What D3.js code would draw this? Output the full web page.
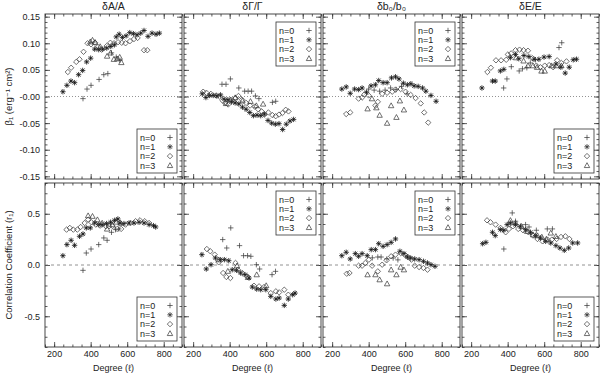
<!DOCTYPE html>
<html>
<head>
<meta charset="utf-8">
<script src="https://cdn.jsdelivr.net/npm/d3@7"></script>
<style>
  body { margin: 0; background: #fff; }
  text { font-family: "Liberation Sans", Arial, "DejaVu Sans", sans-serif; fill: #222; }
</style>
</head>
<body>
<svg id="chart" width="600" height="374"></svg>
<script>
// ---- data: [degree l, value] ----
var titles = ['δA/A', 'δΓ/Γ', 'δb₀/b₀', 'δE/E'];
var legendLabels = ['n=0', 'n=1', 'n=2', 'n=3'];
var xTicks = [200, 400, 600, 800];
var betaTicks = [-0.15, -0.10, -0.05, 0, 0.05, 0.10, 0.15];
var betaTickLabels = ['-0.15', '-0.10', '-0.05', '-0.00', '0.05', '0.10', '0.15'];
var corrTicks = [-0.5, 0, 0.5];
var corrTickLabels = ['-0.5', '0.0', '0.5'];

// top row: beta_1
var betaA_n0 = [[358,-0.004],[380,0.014],[402,0.021],[446,0.032],[472,0.041],[494,0.043],[514,0.082],[540,0.074],[560,0.068]];
var betaA_n1 = [[248,0.009],[270,0.021],[292,0.029],[312,0.026],[334,0.041],[356,0.049],[378,0.065],[400,0.072],[422,0.089],[444,0.088],[466,0.089],[488,0.091],[510,0.094],[530,0.097],[540,0.112],[556,0.117],[574,0.111],[594,0.114],[614,0.120],[634,0.118],[654,0.116],[674,0.119],[692,0.124],[714,0.113],[736,0.119],[758,0.117],[776,0.119]];
var betaA_n2 = [[275,0.046],[293,0.054],[321,0.065],[339,0.070],[361,0.084],[383,0.100],[402,0.098],[424,0.101],[440,0.093],[460,0.088],[488,0.095],[508,0.101],[528,0.100],[550,0.102],[570,0.101],[591,0.100],[615,0.104],[637,0.108],[657,0.110],[692,0.087],[710,0.087]];
var betaA_n3 = [[398,0.103],[410,0.106],[424,0.102],[452,0.094],[490,0.076],[509,0.082],[527,0.070],[545,0.071],[559,0.074],[568,0.064]];

var betaG_n0 = [[358,0.023],[380,0.023],[404,0.033],[450,0.016],[482,0.010],[501,0.010],[520,0.010],[541,0.001],[560,-0.004],[634,-0.011],[652,-0.009]];
var betaG_n1 = [[250,0.005],[270,-0.002],[290,0.002],[310,0.002],[330,0.001],[350,0.003],[370,-0.005],[390,-0.006],[410,-0.010],[430,-0.012],[450,-0.014],[470,-0.020],[490,-0.024],[510,-0.030],[530,-0.036],[550,-0.035],[570,-0.036],[590,-0.033],[610,-0.045],[630,-0.050],[650,-0.052],[670,-0.051],[690,-0.062],[710,-0.052],[730,-0.046],[750,-0.043]];
var betaG_n2 = [[255,0.009],[273,0.007],[297,0.005],[325,0.002],[345,0.000],[362,-0.008],[376,-0.012],[392,-0.015],[412,-0.007],[432,-0.003],[448,0.001],[468,-0.006],[490,-0.012],[512,-0.017],[537,-0.019],[556,-0.024],[575,-0.028],[590,-0.034],[612,-0.030],[634,-0.035],[652,-0.037],[670,-0.034],[689,-0.031],[707,-0.025],[722,-0.028]];
var betaG_n3 = [[380,-0.013],[404,-0.006],[430,-0.002],[470,-0.008],[514,-0.009],[546,-0.017],[583,-0.014]];

var betaB_n0 = [[400,0.014],[430,0.012],[460,0.010],[490,0.012],[520,0.016],[550,0.013],[580,0.019],[610,0.005]];
var betaB_n1 = [[253,0.014],[277,0.018],[299,0.006],[323,0.014],[345,0.013],[364,0.016],[388,0.008],[413,0.020],[437,0.022],[455,0.030],[479,0.026],[501,0.026],[525,0.035],[547,0.037],[566,0.033],[590,0.025],[612,0.022],[631,0.024],[649,0.020],[671,0.019],[695,0.016],[713,0.010],[741,0.002],[769,-0.009]];
var betaB_n2 = [[277,-0.033],[299,-0.030],[345,-0.004],[364,-0.002],[377,0.004],[400,0.002],[437,-0.017],[450,-0.010],[474,0.005],[501,0.007],[529,0.009],[547,0.013],[575,0.014],[602,0.009],[630,0.003],[657,-0.003],[685,-0.013],[704,-0.030],[726,-0.049]];
var betaB_n3 = [[394,-0.023],[418,-0.004],[442,-0.021],[460,-0.035],[501,-0.050],[523,-0.017],[552,-0.039],[571,-0.008],[593,-0.025]];

var betaE_n0 = [[378,0.016],[396,0.033],[420,0.056],[463,0.048],[481,0.052],[505,0.054],[524,0.063],[552,0.069],[681,0.092],[696,0.101]];
var betaE_n1 = [[259,0.016],[317,0.029],[332,0.029],[360,0.048],[379,0.051],[415,0.073],[443,0.079],[461,0.071],[489,0.077],[516,0.075],[544,0.070],[571,0.070],[599,0.074],[627,0.075],[664,0.061],[691,0.055],[715,0.044],[737,0.055],[759,0.069],[777,0.070]];
var betaE_n2 = [[289,0.046],[308,0.054],[336,0.068],[364,0.068],[392,0.069],[401,0.079],[419,0.081],[443,0.087],[465,0.088],[487,0.087],[511,0.086],[535,0.072],[557,0.058],[579,0.055],[603,0.058],[627,0.059],[649,0.055],[671,0.068],[694,0.063],[722,0.066]];
var betaE_n3 = [[446,0.073],[487,0.067],[511,0.058],[539,0.058],[561,0.055],[585,0.048],[603,0.048],[640,0.058],[667,0.058],[694,0.058]];

// bottom row: correlation coefficient r_1
var corrA_n0 = [[358,-0.052],[376,0.117],[402,0.156],[444,0.199],[472,0.264],[490,0.241],[514,0.319],[536,0.345],[554,0.352]];
var corrA_n1 = [[248,0.091],[270,0.199],[293,0.241],[312,0.192],[339,0.280],[358,0.303],[376,0.362],[398,0.362],[422,0.410],[444,0.394],[463,0.394],[487,0.404],[509,0.417],[531,0.436],[549,0.449],[560,0.410],[582,0.404],[610,0.410],[637,0.410],[665,0.417],[692,0.410],[720,0.394],[744,0.384],[756,0.371]];
var corrA_n2 = [[268,0.345],[286,0.362],[305,0.345],[327,0.345],[345,0.371],[367,0.410],[386,0.443],[404,0.417],[428,0.394],[452,0.384],[483,0.378],[501,0.378],[520,0.380],[545,0.352],[567,0.352],[591,0.394],[619,0.410],[646,0.427],[670,0.436],[696,0.427],[720,0.410]];
var corrA_n3 = [[386,0.482],[410,0.476],[437,0.443],[463,0.410],[490,0.352],[518,0.394],[540,0.420],[564,0.410]];

var corrG_n0 = [[362,0.248],[384,0.166],[406,0.362],[454,0.189],[476,0.091],[498,0.091],[516,0.085],[546,0.003],[564,-0.039],[632,-0.094],[651,-0.062]];
var corrG_n1 = [[248,0.101],[272,-0.039],[298,0.003],[322,0.068],[349,0.052],[371,0.052],[395,0.042],[414,-0.046],[438,-0.052],[460,-0.078],[484,-0.094],[506,-0.127],[524,-0.215],[548,-0.235],[570,-0.241],[598,-0.241],[625,-0.306],[653,-0.332],[671,-0.322],[699,-0.394],[721,-0.332],[745,-0.290],[758,-0.274]];
var corrG_n2 = [[275,0.156],[294,0.134],[318,0.101],[340,0.026],[364,-0.078],[382,-0.117],[404,-0.127],[432,0.020],[445,-0.046],[469,-0.078],[496,-0.111],[533,-0.202],[561,-0.208],[588,-0.215],[625,-0.274],[653,-0.257],[671,-0.267],[699,-0.241],[721,-0.290]];
var corrG_n3 = [[340,0.052],[390,-0.060],[440,-0.007],[500,-0.120],[548,-0.094],[600,-0.200]];

var corrB_n0 = [[420,0.070],[450,0.078],[468,0.078],[500,0.060],[534,0.068],[560,0.050]];
var corrB_n1 = [[253,0.091],[277,0.124],[299,0.059],[327,0.111],[345,0.085],[364,0.111],[392,0.091],[414,0.150],[437,0.150],[455,0.208],[479,0.182],[501,0.199],[523,0.221],[547,0.254],[571,0.134],[593,0.111],[612,0.078],[630,0.068],[652,0.059],[676,0.052],[700,0.036],[722,0.020],[741,0.003],[763,-0.013]];
var corrB_n2 = [[280,-0.085],[295,-0.078],[345,-0.007],[364,-0.007],[382,0.020],[401,0.052],[419,-0.007],[450,-0.062],[474,0.003],[498,0.046],[523,0.085],[547,0.101],[575,0.117],[597,0.101],[615,0.078],[634,0.052],[652,-0.007],[676,-0.020],[700,-0.029],[722,-0.046]];
var corrB_n3 = [[394,-0.094],[437,-0.094],[460,-0.143],[501,-0.182],[523,-0.046],[552,-0.094],[575,-0.020],[593,-0.046]];

var corrE_n0 = [[379,0.156],[425,0.508],[443,0.427],[498,0.394],[517,0.371],[557,0.339],[617,0.352],[645,0.352]];
var corrE_n1 = [[263,0.208],[281,0.221],[317,0.319],[332,0.287],[360,0.345],[379,0.339],[397,0.394],[415,0.410],[443,0.394],[470,0.378],[498,0.345],[525,0.319],[553,0.287],[580,0.264],[608,0.231],[636,0.215],[664,0.189],[686,0.166],[710,0.143],[734,0.166],[756,0.215],[783,0.215]];
var corrE_n2 = [[287,0.436],[306,0.417],[334,0.394],[361,0.362],[389,0.319],[407,0.352],[429,0.378],[458,0.352],[484,0.339],[514,0.319],[539,0.287],[563,0.254],[591,0.231],[618,0.248],[642,0.248],[668,0.254],[692,0.274],[716,0.280],[738,0.254]];
var corrE_n3 = [[415,0.436],[443,0.410],[476,0.378],[507,0.329],[539,0.296],[563,0.287],[587,0.274],[612,0.254],[636,0.313],[664,0.280]];

var betaSets = [[betaA_n0, betaA_n1, betaA_n2, betaA_n3], [betaG_n0, betaG_n1, betaG_n2, betaG_n3],
                [betaB_n0, betaB_n1, betaB_n2, betaB_n3], [betaE_n0, betaE_n1, betaE_n2, betaE_n3]];
var corrSets = [[corrA_n0, corrA_n1, corrA_n2, corrA_n3], [corrG_n0, corrG_n1, corrG_n2, corrG_n3],
                [corrB_n0, corrB_n1, corrB_n2, corrB_n3], [corrE_n0, corrE_n1, corrE_n2, corrE_n3]];
var legendCorner = ['bottom', 'top', 'top', 'bottom'];

// ---- layout ----
var PANEL_LEFT = [45, 184, 323, 462];
var PANEL_W = 137;
var ROWS = [
  { top: 14, bottom: 179, domain: [-0.155, 0.155], ticks: betaTicks, labels: betaTickLabels, minor: 0.01, sets: betaSets, dash: '1,2' },
  { top: 183, bottom: 347, domain: [-0.8, 0.8], ticks: corrTicks, labels: corrTickLabels, minor: 0.1, sets: corrSets, dash: '3,3' }
];
var S = 2.7;
var K = S * 0.72;

// n=0 plus, n=1 asterisk, n=2 diamond, n=3 triangle
var markerPath = [
  'M' + -S + ',0H' + S + 'M0,' + -S + 'V' + S,
  'M' + -S + ',0H' + S + 'M0,' + -S + 'V' + S + 'M' + -K + ',' + -K + 'L' + K + ',' + K +
    'M' + -K + ',' + K + 'L' + K + ',' + -K,
  'M0,' + -S + 'L' + S + ',0L0,' + S + 'L' + -S + ',0Z',
  'M0,' + -S + 'L' + S + ',' + S * 0.8 + 'L' + -S + ',' + S * 0.8 + 'Z'
];
var markerWidth = [0.7, 0.8, 0.7, 0.7];

var svg = d3.select('#chart');

function minorRange(domain, step) {
  var out = [];
  var start = Math.ceil(domain[0] / step - 1e-9);
  for (var k = start; k * step <= domain[1] + 1e-9; k++) out.push(+(k * step).toFixed(4));
  return out;
}

function styleAxis(sel) {
  sel.select('.domain').remove();
  sel.selectAll('line').attr('stroke', '#333').attr('stroke-width', 0.8);
  sel.selectAll('text').attr('font-size', 9).attr('fill', '#222')
    .attr('font-family', '"Liberation Sans", Arial, sans-serif');
}

function identity(d) { return d; }

ROWS.forEach(function(row, r) {
  PANEL_LEFT.forEach(function(left, c) {
    var x = d3.scaleLinear().domain([150, 900]).range([left, left + PANEL_W]);
    var y = d3.scaleLinear().domain(row.domain).range([row.bottom, row.top]);
    var g = svg.append('g').attr('class', 'panel');

    // axes on all four sides, ticks pointing in
    var xMinor = minorRange([150, 900], 50);
    var yMinor = minorRange(row.domain, row.minor);
    [[d3.axisBottom, row.bottom], [d3.axisTop, row.top]].forEach(function(a, i) {
      g.append('g').attr('transform', 'translate(0,' + a[1] + ')')
        .call(a[0](x).tickValues(xMinor).tickSize(-2.5).tickFormat('')).call(styleAxis);
      var labelled = (i === 0 && r === 1);
      g.append('g').attr('transform', 'translate(0,' + a[1] + ')')
        .call(a[0](x).tickValues(xTicks).tickSize(-5).tickPadding(4)
          .tickFormat(labelled ? d3.format('d') : '')).call(styleAxis);
    });
    [[d3.axisLeft, left], [d3.axisRight, left + PANEL_W]].forEach(function(a, i) {
      g.append('g').attr('transform', 'translate(' + a[1] + ',0)')
        .call(a[0](y).tickValues(yMinor).tickSize(-2.5).tickFormat('')).call(styleAxis);
      var labelled = (i === 0 && c === 0);
      g.append('g').attr('transform', 'translate(' + a[1] + ',0)')
        .call(a[0](y).tickValues(row.ticks).tickSize(-5).tickPadding(5)
          .tickFormat(function(d, k) { return labelled ? row.labels[k] : ''; })).call(styleAxis);
    });

    // frame
    g.append('rect')
      .attr('x', left).attr('y', row.top)
      .attr('width', PANEL_W).attr('height', row.bottom - row.top)
      .attr('fill', 'none').attr('stroke', '#333').attr('stroke-width', 0.9);

    // zero line
    g.append('line')
      .attr('x1', x(150)).attr('x2', x(900))
      .attr('y1', y(0)).attr('y2', y(0))
      .attr('stroke', '#777').attr('stroke-width', 0.8).attr('stroke-dasharray', row.dash);

    // points
    row.sets[c].forEach(function(series, n) {
      g.selectAll('.pt' + n)
        .data(series)
        .enter()
        .append('path')
        .attr('class', 'pt' + n)
        .attr('d', markerPath[n])
        .attr('transform', function(d) { return 'translate(' + x(d[0]) + ',' + y(d[1]) + ')'; })
        .attr('fill', 'none')
        .attr('stroke', n === 1 ? '#111' : '#333')
        .attr('stroke-width', markerWidth[n]);
    });

    // legend box
    var boxW = 40, boxH = 44;
    var bx = left + PANEL_W - boxW - 5;
    var by = legendCorner[c] === 'top' ? row.top + 8 : row.bottom - boxH - 6;
    var legend = g.append('g').attr('transform', 'translate(' + bx + ',' + by + ')');
    legend.append('rect')
      .attr('width', boxW).attr('height', boxH)
      .attr('fill', '#fff').attr('stroke', '#333').attr('stroke-width', 0.8);
    var item = legend.selectAll('.item')
      .data(legendLabels)
      .enter()
      .append('g')
      .attr('class', 'item')
      .attr('transform', function(d, i) { return 'translate(0,' + (8.5 + i * 9.3) + ')'; });
    item.append('text')
      .attr('x', 3).attr('y', 3.3)
      .attr('font-size', 9)
      .attr('fill', '#222')
      .text(identity);
    item.append('path')
      .attr('transform', 'translate(' + (boxW - 7) + ',0)')
      .attr('d', function(d, i) { return markerPath[i]; })
      .attr('fill', 'none').attr('stroke', '#333')
      .attr('stroke-width', function(d, i) { return markerWidth[i]; });

    // titles and x labels
    if (r === 0) {
      g.append('text')
        .attr('x', left + PANEL_W / 2).attr('y', 10)
        .attr('text-anchor', 'middle').attr('font-size', 10.5)
        .attr('fill', '#222')
        .text(titles[c]);
    } else {
      g.append('text')
        .attr('x', left + PANEL_W / 2).attr('y', 371)
        .attr('text-anchor', 'middle').attr('font-size', 9)
        .attr('fill', '#222')
        .text('Degree (ℓ)');
    }
  });
});

// y axis titles
svg.append('text')
  .attr('transform', 'translate(12,' + (14 + 179) / 2 + ') rotate(-90)')
  .attr('text-anchor', 'middle').attr('font-size', 9.5).attr('fill', '#222')
  .text('β₁ (erg⁻¹ cm²)');
svg.append('text')
  .attr('transform', 'translate(12,' + (183 + 347) / 2 + ') rotate(-90)')
  .attr('text-anchor', 'middle').attr('font-size', 9.5).attr('fill', '#222')
  .text('Correlation Coefficient (r₁)');
</script>
</body>
</html>
